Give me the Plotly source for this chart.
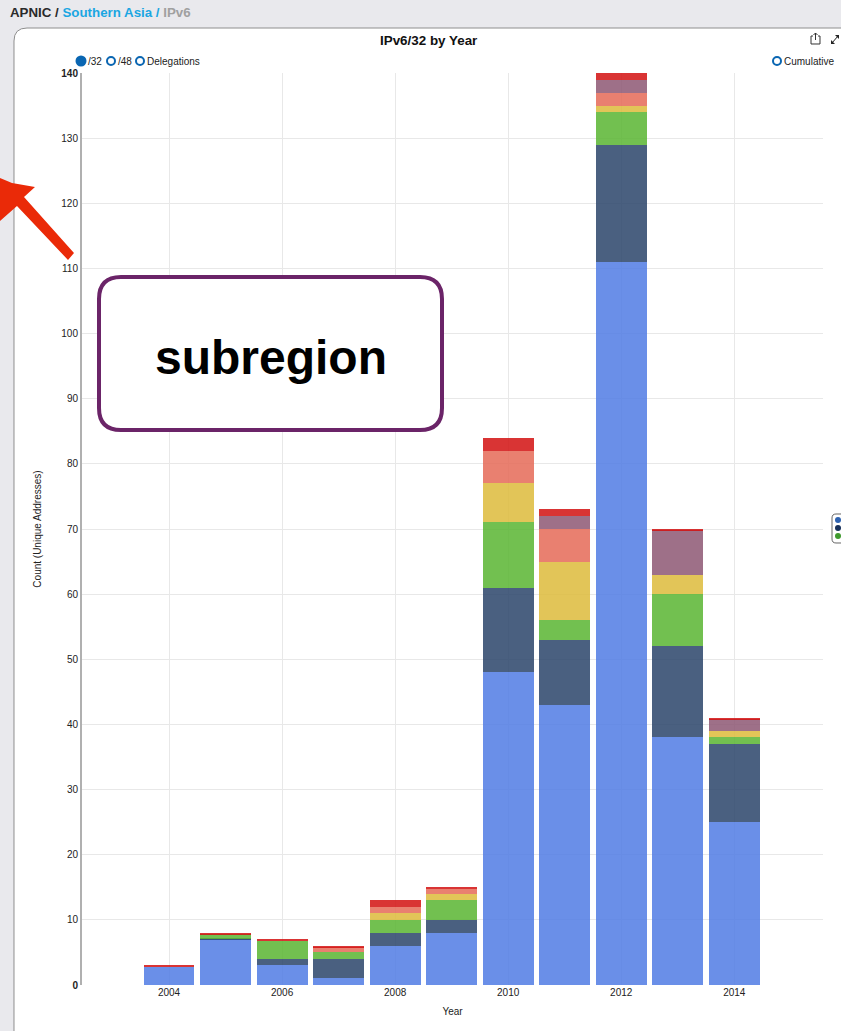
import plotly.graph_objects as go

years = [2004, 2005, 2006, 2007, 2008, 2009, 2010, 2011, 2012, 2013, 2014]
blue = [2.8, 7, 3, 1, 6, 8, 48, 43, 111, 38, 25]
navy = [0, 0.1, 1, 3, 2, 2, 13, 10, 18, 14, 12]
green = [0, 0.7, 2.8, 1, 2, 3, 10, 3, 5, 8, 1]
yellow = [0, 0, 0, 0, 1, 1, 6, 9, 1, 3, 1]
salmon = [0, 0, 0, 0.8, 1, 0.8, 5, 5, 2, 0, 0]
purple = [0, 0, 0, 0, 0, 0, 0, 2, 2, 6.8, 1.8]
red = [0.2, 0.2, 0.2, 0.2, 1, 0.2, 2, 1, 1, 0.2, 0.2]
y_ticks = list(range(0, 141, 10))
y_labels = ["<b>0</b>"] + [str(v) for v in y_ticks[1:-1]] + ["<b>140</b>"]
x_ticks = [2004, 2006, 2008, 2010, 2012, 2014]

series = [
    ("Blue", blue, "#507be4"), ("Navy", navy, "#2a446a"), ("Green", green, "#59b531"),
    ("Yellow", yellow, "#ddbb3b"), ("Salmon", salmon, "#e56a57"), ("Purple", purple, "#8d5773"),
    ("Red", red, "#d21111"),
]

W, H = 841, 1031
L, R, T, B = 82, 18, 73, 46
FONT = "Liberation Sans"


def px(x):
    return (x - L) / (W - L - R)


def py(y):
    return 1 - (y - T) / (H - T - B)


def pt(x, y):
    return f"{px(x):.5f},{py(y):.5f}"


def rounded(x0, y0, x1, y1, r):
    return (f"M{pt(x0 + r, y0)} L{pt(x1 - r, y0)} Q{pt(x1, y0)} {pt(x1, y0 + r)} "
            f"L{pt(x1, y1 - r)} Q{pt(x1, y1)} {pt(x1 - r, y1)} L{pt(x0 + r, y1)} "
            f"Q{pt(x0, y1)} {pt(x0, y1 - r)} L{pt(x0, y0 + r)} Q{pt(x0, y0)} {pt(x0 + r, y0)} Z")


def poly(points):
    return "M" + " L".join(pt(x, y) for x, y in points) + " Z"


def path(d, fill="rgba(0,0,0,0)", line="rgba(0,0,0,0)", width=0, layer="above"):
    return dict(type="path", xref="paper", yref="paper", path=d, fillcolor=fill,
                line=dict(color=line, width=width), layer=layer)


def circle(cx, cy, r, fill, line, width=2):
    return dict(type="circle", xref="paper", yref="paper", x0=px(cx - r), x1=px(cx + r),
                y0=py(cy + r), y1=py(cy - r), fillcolor=fill,
                line=dict(color=line, width=width), layer="above")


def seg(x0, y0, x1, y1, color, width):
    return dict(type="line", xref="paper", yref="paper", x0=px(x0), y0=py(y0), x1=px(x1), y1=py(y1),
                line=dict(color=color, width=width), layer="above")


def label(x, y, text, size=10, color="#222222", anchor="left", angle=0):
    return dict(xref="paper", yref="paper", x=px(x), y=py(y), text=text, showarrow=False,
                xanchor=anchor, yanchor="middle", textangle=angle,
                borderpad=0, borderwidth=0,
                font=dict(family=FONT, size=size, color=color))


fig = go.Figure()
for name, values, color in series:
    fig.add_trace(go.Bar(x=years, y=values, name=name, width=0.9,
                         marker=dict(color=color, opacity=0.85, line=dict(width=0))))

shapes = [
    path(rounded(14, 28, 880, 1060, 13), fill="#ffffff", line="#8e8e8e", width=1, layer="below"),
    path(rounded(99, 277, 442, 430, 22), fill="#ffffff", line="#6b2468", width=4),
    path(poly([(0, 178), (12, 183), (35, 187), (24, 197), (74, 253), (68, 260), (17, 206), (0, 221)]),
         fill="#ea2a08"),
    circle(81, 61, 4.5, "#0a66b2", "#0a66b2"),
    circle(111, 61, 4, "#ffffff", "#0a66b2"),
    circle(140, 61, 4, "#ffffff", "#0a66b2"),
    circle(777, 61, 4, "#ffffff", "#0a66b2"),
    path(f"M{pt(813, 36)} L{pt(811, 36)} L{pt(811, 44)} L{pt(820, 44)} L{pt(820, 36)} L{pt(818, 36)}",
         line="#333333", width=1),
    seg(815.5, 33, 815.5, 40, "#333333", 1),
    path(f"M{pt(813.5, 35)} L{pt(815.5, 33)} L{pt(817.5, 35)}", line="#333333", width=1),
    seg(832, 43, 838, 36, "#222222", 1),
    path(poly([(831, 44), (831, 40), (835, 44)]), fill="#222222"),
    path(poly([(839, 35), (839, 39), (835, 35)]), fill="#222222"),
    path(rounded(832, 514, 850, 543, 4), fill="#ffffff", line="#666666", width=1),
    circle(838, 520, 3, "#2e62b0", "#2e62b0", 0),
    circle(838, 528, 3, "#17305a", "#17305a", 0),
    circle(838, 536, 3, "#3f9a2e", "#3f9a2e", 0),
]

annotations = [
    label(10, 12, "<b>APNIC / <span style='color:#1ba6e2'>Southern Asia /</span> "
                  "<span style='color:#a0a0a0'>IPv6</span></b>", size=13.3, color="#2a2a2a"),
    label(429, 40, "<b>IPv6/32 by Year</b>", size=13.4, anchor="center", color="#111111"),
    label(88, 61, "/32"), label(118, 61, "/48"), label(147, 61, "Delegations"),
    label(784, 61, "Cumulative"),
    label(271, 357, "<b>subregion</b>", size=48, anchor="center", color="#000000"),
]

fig.update_layout(
    width=W, height=H, autosize=False, barmode="stack", showlegend=False,
    margin=dict(l=L, r=R, t=T, b=B, pad=0),
    paper_bgcolor="#e9e9ed", plot_bgcolor="rgba(0,0,0,0)",
    font=dict(family=FONT, size=10, color="#222222"),
    xaxis=dict(range=[2002.46, 2015.57], tickmode="array", tickvals=x_ticks, ticks="", showgrid=True,
               gridcolor="#e8e8e8", gridwidth=1, zeroline=False, showline=False,
               title=dict(text="Year", font=dict(size=10), standoff=10), tickfont=dict(size=10)),
    yaxis=dict(range=[0, 140], tickmode="array", tickvals=y_ticks, ticktext=y_labels, ticks="",
               showgrid=True, gridcolor="#e8e8e8", gridwidth=1, zeroline=False, showline=True,
               linecolor="#b0b0b0", linewidth=2,
               title=dict(text="Count (Unique Addresses)", font=dict(size=10), standoff=18),
               tickfont=dict(size=10)),
    shapes=shapes, annotations=annotations,
)

fig.write_html("out.html", config={"displayModeBar": False},
               post_script="document.body.style.margin='0';document.body.style.overflow='hidden';")
